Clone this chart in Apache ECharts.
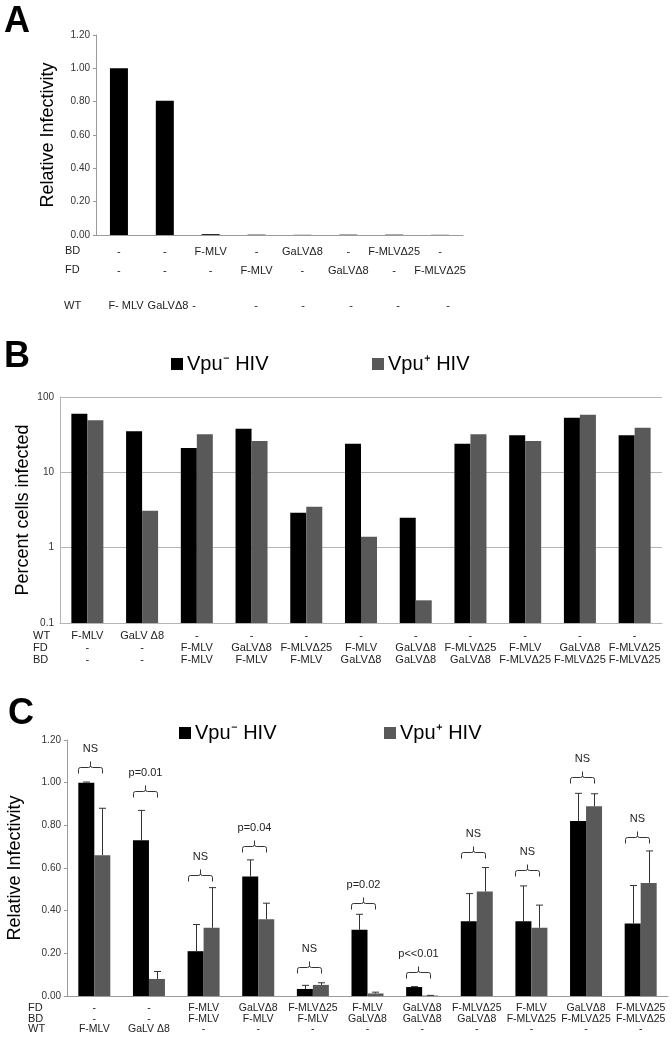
<!DOCTYPE html>
<html>
<head>
<meta charset="utf-8">
<script src="https://cdn.jsdelivr.net/npm/echarts@6/dist/echarts.min.js"></script>
<style>
  html, body { margin: 0; padding: 0; background: #fff; }
  #chart { width: 672px; height: 1043px; }
</style>
</head>
<body>
<div id="chart"></div>
<script>
// ---- panel A data ----
const aBD = ['-', '-', 'F-MLV', '-', 'GaLVΔ8', '-', 'F-MLVΔ25', '-']
const aFD = ['-', '-', '-', 'F-MLV', '-', 'GaLVΔ8', '-', 'F-MLVΔ25']
const aWT = ['F- MLV', 'GaLVΔ8', '-', '-', '-', '-', '-', '-']
const aValues = [1.00, 0.805, 0.005, 0.002, 0.001, 0.002, 0.002, 0.001]

// ---- panel B / C categories ----
const bcWT = ['F-MLV', 'GaLV Δ8', '-', '-', '-', '-', '-', '-', '-', '-', '-']
const bcFD = ['-', '-', 'F-MLV', 'GaLVΔ8', 'F-MLVΔ25', 'F-MLV', 'GaLVΔ8', 'F-MLVΔ25', 'F-MLV', 'GaLVΔ8', 'F-MLVΔ25']
const bcBD = ['-', '-', 'F-MLV', 'F-MLV', 'F-MLV', 'GaLVΔ8', 'GaLVΔ8', 'GaLVΔ8', 'F-MLVΔ25', 'F-MLVΔ25', 'F-MLVΔ25']

// ---- panel B data (percent cells infected, log scale) ----
const bVpuMinus = [60, 35, 21, 38, 2.9, 24, 2.5, 24, 31, 53, 31]
const bVpuPlus = [49, 3.1, 32, 26, 3.5, 1.4, 0.2, 32, 26, 58, 39]

// ---- panel C data (relative infectivity, mean and mean+SD) ----
const cVpuMinus = [1.00, 0.73, 0.21, 0.56, 0.033, 0.31, 0.042, 0.35, 0.35, 0.82, 0.34]
const cVpuMinusErr = [1.003, 0.87, 0.335, 0.638, 0.05, 0.383, 0.044, 0.48, 0.516, 0.95, 0.518]
const cVpuPlus = [0.66, 0.08, 0.32, 0.36, 0.052, 0.012, 0.002, 0.49, 0.32, 0.89, 0.53]
const cVpuPlusErr = [0.88, 0.115, 0.508, 0.435, 0.062, 0.018, 0.003, 0.602, 0.426, 0.948, 0.68]
const cSigLabels = ['NS', 'p=0.01', 'NS', 'p=0.04', 'NS', 'p=0.02', 'p<<0.01', 'NS', 'NS', 'NS', 'NS']
const cSigLevel = [1.047, 0.934, 0.54, 0.677, 0.106, 0.406, 0.083, 0.646, 0.5625, 0.997, 0.719]

const FONT = "'Liberation Sans', Arial, sans-serif"
const NARROW = "'Liberation Sans Narrow', 'Liberation Sans', Arial, sans-serif"
const GRAY_BAR = '#595959'
const AXIS = '#9a9a9a'
const BAR_W = 16
const LOG_MIN = 0.1

const chart = echarts.init(document.getElementById('chart'))

// bars on the log axis have to start at the axis floor (0.1), not at 1
function logBarRender(offset, color) {
  return function(params, api) {
    const i = api.value(0)
    const top = api.coord([i, api.value(1)])
    const base = api.coord([i, LOG_MIN])
    return {
      type: 'rect',
      shape: { x: top[0] + offset, y: top[1], width: BAR_W, height: base[1] - top[1] },
      style: { fill: color }
    }
  }
}

// error bar: vertical whisker from bar top to mean+SD with a cap
function errRender(offset) {
  return function(params, api) {
    const i = api.value(0)
    const base = api.coord([i, api.value(1)])
    const top = api.coord([i, api.value(2)])
    const x = Math.round(base[0] + offset) + 0.5
    return {
      type: 'group',
      children: [
        { type: 'line', shape: { x1: x, y1: base[1], x2: x, y2: top[1] }, style: { stroke: '#333', lineWidth: 1 }},
        { type: 'line', shape: { x1: x - 3.5, y1: top[1], x2: x + 3.5, y2: top[1] }, style: { stroke: '#333', lineWidth: 1 }}
      ]
    }
  }
}

// significance bracket + label above each pair
function sigRender(params, api) {
  const p = api.coord([api.value(0), api.value(1)])
  const cx = Math.round(p[0] - 4) + 0.5
  const yb = Math.round(p[1]) + 0.5
  const w = 12
  return {
    type: 'group',
    children: [
      {
        type: 'path',
        shape: {
          pathData: `M${cx - w},${yb} L${cx - w},${yb - 4} Q${cx - w},${yb - 6} ${cx - w + 2},${yb - 6} ` +
            `L${cx - 2},${yb - 6} Q${cx},${yb - 6} ${cx},${yb - 8} L${cx},${yb - 12} ` +
            `M${cx},${yb - 8} Q${cx},${yb - 6} ${cx + 2},${yb - 6} L${cx + w - 2},${yb - 6} ` +
            `Q${cx + w},${yb - 6} ${cx + w},${yb - 4} L${cx + w},${yb}`
        },
        style: { stroke: '#333', lineWidth: 1, fill: null }
      },
      {
        type: 'text',
        style: {
          text: cSigLabels[params.dataIndex], x: cx, y: yb - 25,
          align: 'center', verticalAlign: 'middle',
          fontSize: 11, fontFamily: NARROW, fill: '#222'
        }
      }
    ]
  }
}

function legendItems(x1, x2, y, boxTop) {
  const ts = { fontSize: 20, fontFamily: FONT, fill: '#000', verticalAlign: 'middle' }
  return [
    { type: 'rect', left: x1, top: boxTop, shape: { width: 12, height: 12 }, style: { fill: '#000' }},
    { type: 'text', x: x1 + 16, y: y, style: Object.assign({ text: 'Vpu⁻ HIV' }, ts) },
    { type: 'rect', left: x2, top: boxTop, shape: { width: 12, height: 12 }, style: { fill: GRAY_BAR }},
    { type: 'text', x: x2 + 16, y: y, style: Object.assign({ text: 'Vpu⁺ HIV' }, ts) }
  ]
}

function rowLabel(text, x, y) {
  return { type: 'text', x: x, y: y, style: { text: text, fontSize: 11, fontFamily: NARROW, fill: '#222', verticalAlign: 'middle' }}
}

const wtX = [126, 168, 194, 256, 303, 351, 398, 448]

const graphic = [
  { type: 'text', x: 4, y: 4, style: { text: 'A', fontSize: 36, fontWeight: 'bold', fontFamily: FONT, fill: '#000' }},
  { type: 'text', x: 4, y: 339, style: { text: 'B', fontSize: 36, fontWeight: 'bold', fontFamily: FONT, fill: '#000' }},
  { type: 'text', x: 8, y: 696, style: { text: 'C', fontSize: 36, fontWeight: 'bold', fontFamily: FONT, fill: '#000' }},
  rowLabel('BD', 65, 251), rowLabel('FD', 65, 270), rowLabel('WT', 64, 306),
  rowLabel('WT', 33, 636), rowLabel('FD', 33, 648), rowLabel('BD', 33, 660),
  rowLabel('FD', 28, 1008), rowLabel('BD', 28, 1018.5), rowLabel('WT', 28, 1029)
]
  .concat(legendItems(171, 372, 364, 358))
  .concat(legendItems(179, 384, 733, 727))
  .concat(aWT.map((t, i) => ({
    type: 'text', x: wtX[i], y: 306,
    style: { text: t, fontSize: 11, fontFamily: NARROW, fill: '#222', align: 'center', verticalAlign: 'middle' }
  })))

const valueLabel = { fontSize: 10, fontFamily: NARROW, color: '#333', margin: 6 }
const yName = { fontSize: 18, fontFamily: FONT, color: '#000' }

chart.setOption({
  animation: false,
  backgroundColor: '#fff',
  textStyle: { fontFamily: FONT },
  graphic: graphic,
  grid: [
    { left: 96, top: 35, width: 367, height: 200, outerBoundsMode: 'none' },
    { left: 60, top: 397, width: 602, height: 226, outerBoundsMode: 'none' },
    { left: 67, top: 740, width: 601, height: 256, outerBoundsMode: 'none' }
  ],
  xAxis: [
    {
      type: 'category', gridIndex: 0,
      data: aBD.map((_, i) => 'a' + i),
      axisLine: { lineStyle: { color: AXIS }},
      axisTick: { length: 4, lineStyle: { color: AXIS }},
      axisLabel: {
        interval: 0, margin: 7, lineHeight: 19, fontSize: 11, fontFamily: NARROW, color: '#222',
        formatter: (v, i) => aBD[i] + '\n' + aFD[i]
      }
    },
    {
      type: 'category', gridIndex: 1,
      data: bcWT.map((_, i) => 'b' + i),
      axisLine: { lineStyle: { color: '#b5b5b5' }},
      axisTick: { show: false },
      axisLabel: {
        interval: 0, margin: 7, lineHeight: 12, fontSize: 11, fontFamily: NARROW, color: '#222',
        formatter: (v, i) => bcWT[i] + '\n' + bcFD[i] + '\n' + bcBD[i]
      }
    },
    {
      type: 'category', gridIndex: 2,
      data: bcWT.map((_, i) => 'c' + i),
      axisLine: { lineStyle: { color: AXIS }},
      axisTick: { length: 5, lineStyle: { color: AXIS }},
      axisLabel: {
        interval: 0, margin: 7, lineHeight: 10.5, fontSize: 10.5, fontFamily: NARROW, color: '#222',
        formatter: (v, i) => bcFD[i] + '\n' + bcBD[i] + '\n' + bcWT[i]
      }
    }
  ],
  yAxis: [
    {
      type: 'value', gridIndex: 0, min: 0, max: 1.2, interval: 0.2,
      splitLine: { show: false },
      axisLine: { show: true, lineStyle: { color: AXIS }},
      axisTick: { show: true, length: 3, lineStyle: { color: AXIS }},
      axisLabel: Object.assign({ formatter: v => v.toFixed(2) }, valueLabel),
      name: 'Relative Infectivity', nameLocation: 'middle', nameGap: 39, nameMoveOverlap: false, nameTextStyle: yName
    },
    {
      type: 'log', gridIndex: 1, min: LOG_MIN, max: 100, logBase: 10,
      splitLine: { lineStyle: { color: '#b5b5b5' }},
      axisLine: { show: true, lineStyle: { color: '#b5b5b5' }},
      axisTick: { show: false },
      axisLabel: Object.assign({ formatter: v => String(+v.toPrecision(2)) }, valueLabel),
      name: 'Percent cells infected', nameLocation: 'middle', nameGap: 28, nameMoveOverlap: false, nameTextStyle: yName
    },
    {
      type: 'value', gridIndex: 2, min: 0, max: 1.2, interval: 0.2,
      splitLine: { show: false },
      axisLine: { show: true, lineStyle: { color: AXIS }},
      axisTick: { show: true, length: 3, lineStyle: { color: AXIS }},
      axisLabel: Object.assign({ formatter: v => v.toFixed(2) }, valueLabel),
      name: 'Relative Infectivity', nameLocation: 'middle', nameGap: 43, nameMoveOverlap: false, nameTextStyle: yName
    }
  ],
  series: [
    { type: 'bar', xAxisIndex: 0, yAxisIndex: 0, data: aValues, barWidth: 18, itemStyle: { color: '#000' }},

    {
      type: 'custom', name: 'Vpu- HIV', xAxisIndex: 1, yAxisIndex: 1,
      renderItem: logBarRender(-BAR_W, '#000'),
      encode: { x: 0, y: 1 },
      data: bVpuMinus.map((v, i) => [i, v])
    },
    {
      type: 'custom', name: 'Vpu+ HIV', xAxisIndex: 1, yAxisIndex: 1,
      renderItem: logBarRender(0, GRAY_BAR),
      encode: { x: 0, y: 1 },
      data: bVpuPlus.map((v, i) => [i, v])
    },

    { type: 'bar', name: 'Vpu- HIV', xAxisIndex: 2, yAxisIndex: 2, data: cVpuMinus, barWidth: BAR_W, barGap: '0%', itemStyle: { color: '#000' }},
    { type: 'bar', name: 'Vpu+ HIV', xAxisIndex: 2, yAxisIndex: 2, data: cVpuPlus, barWidth: BAR_W, barGap: '0%', itemStyle: { color: GRAY_BAR }},
    {
      type: 'custom', xAxisIndex: 2, yAxisIndex: 2, z: 5,
      renderItem: errRender(-BAR_W / 2),
      encode: { x: 0, y: [1, 2] },
      data: cVpuMinus.map((v, i) => [i, v, cVpuMinusErr[i]])
    },
    {
      type: 'custom', xAxisIndex: 2, yAxisIndex: 2, z: 5,
      renderItem: errRender(BAR_W / 2),
      encode: { x: 0, y: [1, 2] },
      data: cVpuPlus.map((v, i) => [i, v, cVpuPlusErr[i]])
    },
    {
      type: 'custom', xAxisIndex: 2, yAxisIndex: 2, z: 6,
      renderItem: sigRender,
      encode: { x: 0, y: 1 },
      data: cSigLevel.map((v, i) => [i, v])
    }
  ]
})
</script>
</body>
</html>
